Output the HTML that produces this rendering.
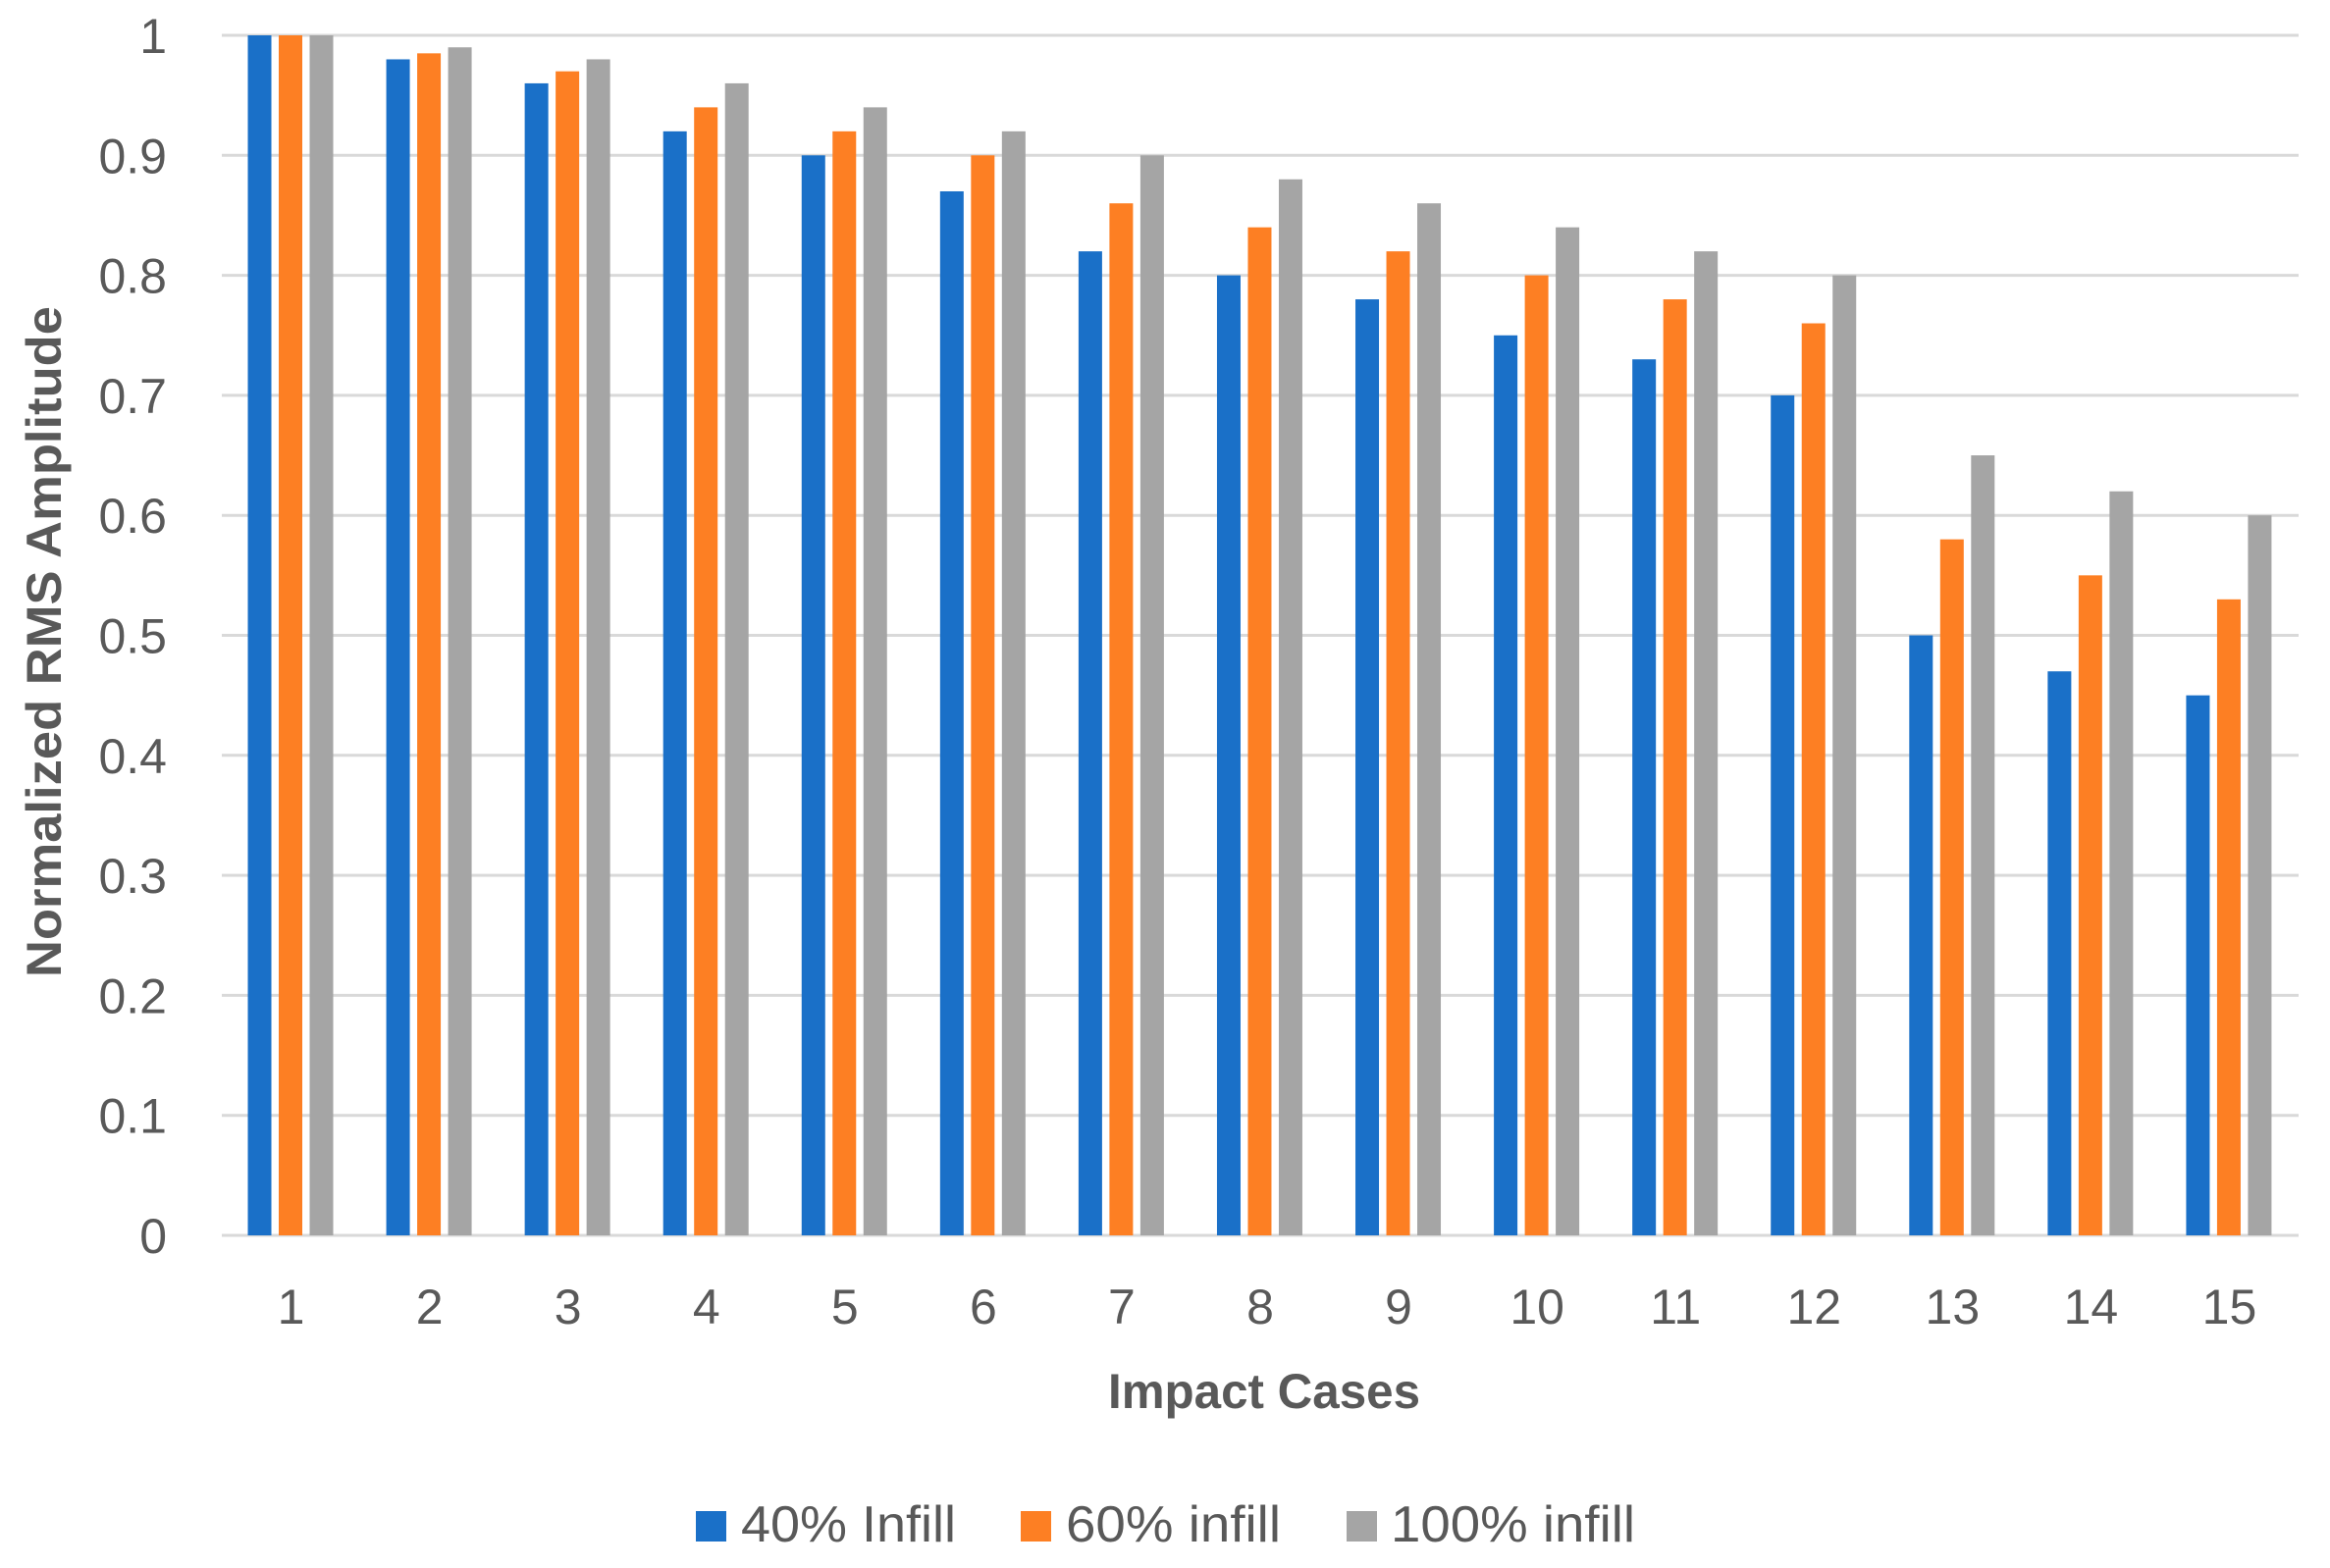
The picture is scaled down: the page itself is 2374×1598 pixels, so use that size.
<!DOCTYPE html>
<html><head><meta charset="utf-8"><style>
html,body{margin:0;padding:0;background:#fff;}
svg{display:block;}
text{font-family:"Liberation Sans",sans-serif;fill:#595959;}
</style></head><body>
<svg id="chart" width="2374" height="1598" viewBox="0 0 2374 1598" xmlns="http://www.w3.org/2000/svg">
<g id="grid"></g>
<g id="bars"></g>
<g id="yticks"></g>
<g id="xticks"></g>
<text x="0" y="0" transform="translate(62,654) rotate(-90)" text-anchor="middle" font-size="50" font-weight="bold" textLength="684" lengthAdjust="spacingAndGlyphs">Normalized RMS Amplitude</text>
<text x="1288" y="1435" text-anchor="middle" font-size="50" font-weight="bold" textLength="318" lengthAdjust="spacingAndGlyphs">Impact Cases</text>
<g>
  <rect x="709" y="1540" width="31" height="31" fill="#1a70c8"/>
  <text x="755" y="1571" font-size="52" textLength="219" lengthAdjust="spacingAndGlyphs">40% Infill</text>
  <rect x="1040" y="1540" width="31" height="31" fill="#fd7f23"/>
  <text x="1086" y="1571" font-size="52" textLength="219" lengthAdjust="spacingAndGlyphs">60% infill</text>
  <rect x="1372" y="1540" width="31" height="31" fill="#a5a5a5"/>
  <text x="1417" y="1571" font-size="52" textLength="249" lengthAdjust="spacingAndGlyphs">100% infill</text>
</g>
</svg>
<script>
const categories = ["1","2","3","4","5","6","7","8","9","10","11","12","13","14","15"];
const infill40 = [1, 0.98, 0.96, 0.92, 0.90, 0.87, 0.82, 0.80, 0.78, 0.75, 0.73, 0.70, 0.50, 0.47, 0.45];
const infill60 = [1, 0.985, 0.97, 0.94, 0.92, 0.90, 0.86, 0.84, 0.82, 0.80, 0.78, 0.76, 0.58, 0.55, 0.53];
const infill100 = [1, 0.99, 0.98, 0.96, 0.94, 0.92, 0.90, 0.88, 0.86, 0.84, 0.82, 0.80, 0.65, 0.62, 0.60];
const yTicks = [0, 0.1, 0.2, 0.3, 0.4, 0.5, 0.6, 0.7, 0.8, 0.9, 1];
const yTickLabels = ["0","0.1","0.2","0.3","0.4","0.5","0.6","0.7","0.8","0.9","1"];

const NS = "http://www.w3.org/2000/svg";
const plotL = 226, plotR = 2342, plotT = 36, plotB = 1259;
const catW = (plotR - plotL) / categories.length;
function yScale(v){ return plotB - v * (plotB - plotT); }
function xCat(i){ return plotL + i * catW; }

const grid = document.getElementById('grid');
const yt = document.getElementById('yticks');
yTicks.forEach((t, i) => {
  const l = document.createElementNS(NS, 'line');
  l.setAttribute('x1', plotL); l.setAttribute('x2', plotR);
  l.setAttribute('y1', yScale(t)); l.setAttribute('y2', yScale(t));
  l.setAttribute('stroke', '#d9d9d9'); l.setAttribute('stroke-width', '3');
  
  
  grid.appendChild(l);
  const tx = document.createElementNS(NS, 'text');
  tx.setAttribute('x', 170); tx.setAttribute('y', yScale(t) + 18);
  tx.setAttribute('text-anchor', 'end'); tx.setAttribute('font-size', '50');
  tx.textContent = yTickLabels[i];
  
  
  yt.appendChild(tx);
});

const series = [infill40, infill60, infill100];
const colors = ['#1a70c8', '#fd7f23', '#a5a5a5'];
const names = ['bar-40', 'bar-60', 'bar-100'];
const bars = document.getElementById('bars');
const xt = document.getElementById('xticks');
categories.forEach((c, i) => {
  series.forEach((s, k) => {
    const r = document.createElementNS(NS, 'rect');
    const x = xCat(i) + 26.5 + k * 31.5;
    r.setAttribute('x', x); r.setAttribute('width', 24);
    r.setAttribute('y', yScale(s[i])); r.setAttribute('height', plotB - yScale(s[i]));
    r.setAttribute('fill', colors[k]);
    
    
    bars.appendChild(r);
  });
  const tx = document.createElementNS(NS, 'text');
  tx.setAttribute('x', xCat(i) + catW / 2); tx.setAttribute('y', 1349);
  tx.setAttribute('text-anchor', 'middle'); tx.setAttribute('font-size', '50');
  tx.textContent = c;
  
  
  xt.appendChild(tx);
});
</script>
</body></html>
